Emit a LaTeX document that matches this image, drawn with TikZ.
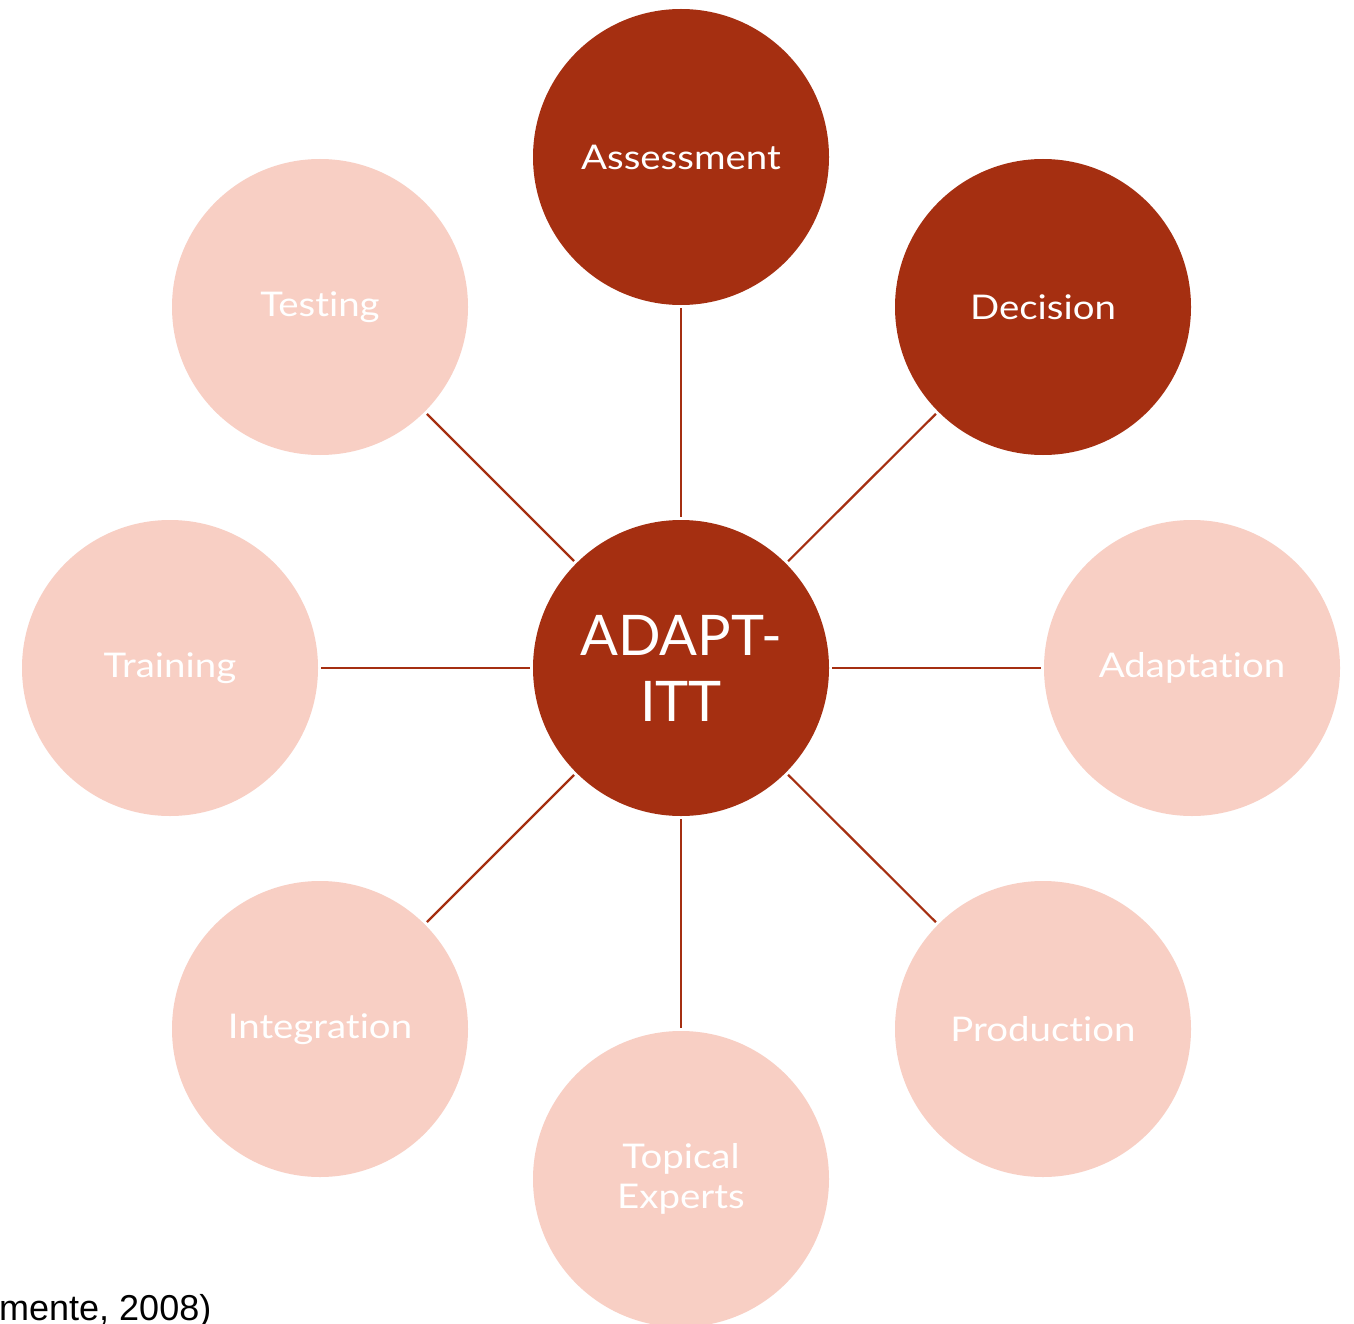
\documentclass[tikz,border=0pt]{standalone}
\usepackage{fontspec}
\setmainfont{Lato}
\newfontfamily\labelfont{Lato}[FakeStretch=1.13,Ligatures=NoCommon,RawFeature=-liga]
\newfontfamily\hubfont{Lato}[Ligatures=NoCommon,RawFeature=-liga]
\newfontfamily\arialfont{Liberation Sans}
\definecolor{darkred}{HTML}{A52F11}
\definecolor{lightpink}{HTML}{F8CFC4}
\begin{document}
\begin{tikzpicture}[x=1pt,y=1pt,
  hub/.style={circle,fill=darkred,minimum size=296pt,inner sep=0pt,text=white,font=\hubfont\fontsize{56}{66}\selectfont,align=center},
  darknode/.style={circle,fill=darkred,minimum size=296pt,inner sep=0pt,text=white,font=\labelfont\fontsize{34}{40}\selectfont,align=center},
  lightnode/.style={circle,fill=lightpink,minimum size=296pt,inner sep=0pt,text=white,font=\labelfont\fontsize{34}{40}\selectfont,align=center},
  link/.style={draw=darkred,line width=2.2pt,shorten <=3pt,shorten >=3pt}]
\useasboundingbox (0,0) rectangle (1354,-1324);
\fill[white] (0,0) rectangle (1354,-1324);
\node[hub] (c) at (681,-668) {ADAPT-\\ITT};
\node[darknode] (assess) at (681,-157) {Assessment};
\node[darknode] (decision) at (1043,-307) {Decision};
\node[lightnode] (adapt) at (1192,-668) {Adaptation};
\node[lightnode] (prod) at (1043,-1029) {Production};
\node[lightnode] (topic) at (681,-1179) {Topical\\Experts};
\node[lightnode] (integ) at (320,-1029) {Integration};
\node[lightnode] (train) at (170,-668) {Training};
\node[lightnode] (test) at (320,-307) {Testing};
\foreach \n in {assess,decision,adapt,prod,topic,integ,train,test}
  \draw[link] (c) -- (\n);
\node[anchor=base west,inner sep=0pt,font=\arialfont\fontsize{36}{40}\selectfont,text=black] (cite) at (-1,-1320) {mente, 2008)};
\end{tikzpicture}
\end{document}
